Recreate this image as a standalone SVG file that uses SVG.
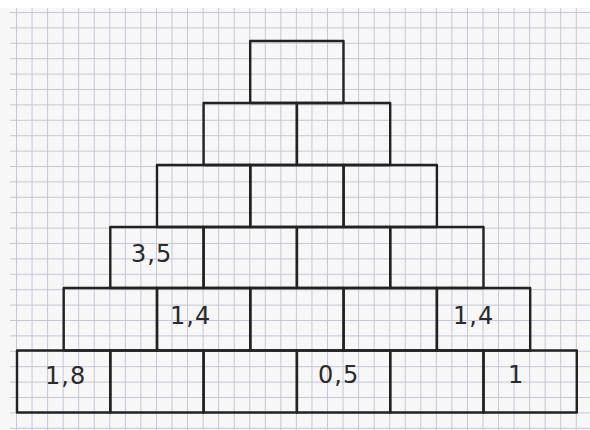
<svg xmlns="http://www.w3.org/2000/svg" width="590" height="430" viewBox="0 0 590 430">
<style>
.grid{stroke:#c6c6d8;stroke-width:1;fill:none}
.brick{fill:none;stroke:#222;stroke-width:2.4;stroke-linejoin:round}
.lbl{font-family:"DejaVu Sans","Liberation Sans",sans-serif;font-size:24px;fill:#2a2a2a;letter-spacing:1px}
</style>
<rect x="0" y="0" width="590" height="430" fill="#f7f7f8"/>
<rect x="0" y="0" width="590" height="8" fill="#ffffff"/>
<path class="grid" d="M10 12.5H590M10 27.9H590M10 43.3H590M10 58.7H590M10 74.1H590M10 89.5H590M10 104.9H590M10 120.3H590M10 135.7H590M10 151.1H590M10 166.5H590M10 181.9H590M10 197.3H590M10 212.7H590M10 228.1H590M10 243.5H590M10 258.9H590M10 274.3H590M10 289.7H590M10 305.1H590M10 320.5H590M10 335.9H590M10 351.3H590M10 366.7H590M10 382.1H590M10 397.5H590M10 412.9H590M10 428.3H590
M16.5 8V430M32.05 8V430M47.6 8V430M63.15 8V430M78.7 8V430M94.25 8V430M109.8 8V430M125.35 8V430M140.9 8V430M156.45 8V430M172 8V430M187.55 8V430M203.1 8V430M218.65 8V430M234.2 8V430M249.75 8V430M265.3 8V430M280.85 8V430M296.4 8V430M311.95 8V430M327.5 8V430M343.05 8V430M358.6 8V430M374.15 8V430M389.7 8V430M405.25 8V430M420.8 8V430M436.35 8V430M451.9 8V430M467.45 8V430M483 8V430M498.55 8V430M514.1 8V430M529.65 8V430M545.2 8V430M560.75 8V430M576.3 8V430"/>
<g id="row1">
<g id="r1b1"><rect class="brick" x="250.2" y="41" width="93.3" height="62"/></g>
</g>
<g id="row2">
<g id="r2b1"><rect class="brick" x="203.6" y="103" width="93.3" height="62"/></g>
<g id="r2b2"><rect class="brick" x="296.9" y="103" width="93.3" height="62"/></g>
</g>
<g id="row3">
<g id="r3b1"><rect class="brick" x="157" y="165" width="93.3" height="62"/></g>
<g id="r3b2"><rect class="brick" x="250.3" y="165" width="93.3" height="62"/></g>
<g id="r3b3"><rect class="brick" x="343.6" y="165" width="93.3" height="62"/></g>
</g>
<g id="row4">
<g id="r4b1"><rect class="brick" x="110.3" y="227" width="93.3" height="61"/><text class="lbl" x="131" y="262">3,5</text></g>
<g id="r4b2"><rect class="brick" x="203.6" y="227" width="93.3" height="61"/></g>
<g id="r4b3"><rect class="brick" x="296.9" y="227" width="93.3" height="61"/></g>
<g id="r4b4"><rect class="brick" x="390.2" y="227" width="93.3" height="61"/></g>
</g>
<g id="row5">
<g id="r5b1"><rect class="brick" x="63.7" y="288" width="93.3" height="62.5"/></g>
<g id="r5b2"><rect class="brick" x="157" y="288" width="93.3" height="62.5"/><text class="lbl" x="170" y="324">1,4</text></g>
<g id="r5b3"><rect class="brick" x="250.3" y="288" width="93.3" height="62.5"/></g>
<g id="r5b4"><rect class="brick" x="343.6" y="288" width="93.3" height="62.5"/></g>
<g id="r5b5"><rect class="brick" x="436.9" y="288" width="93.3" height="62.5"/><text class="lbl" x="453" y="324">1,4</text></g>
</g>
<g id="row6">
<g id="r6b1"><rect class="brick" x="17" y="350.5" width="93.3" height="62"/><text class="lbl" x="45" y="384">1,8</text></g>
<g id="r6b2"><rect class="brick" x="110.3" y="350.5" width="93.3" height="62"/></g>
<g id="r6b3"><rect class="brick" x="203.6" y="350.5" width="93.3" height="62"/></g>
<g id="r6b4"><rect class="brick" x="296.9" y="350.5" width="93.3" height="62"/><text class="lbl" x="318" y="383">0,5</text></g>
<g id="r6b5"><rect class="brick" x="390.2" y="350.5" width="93.3" height="62"/></g>
<g id="r6b6"><rect class="brick" x="483.5" y="350.5" width="93.3" height="62"/><text class="lbl" x="508" y="383">1</text></g>
</g>
</svg>
